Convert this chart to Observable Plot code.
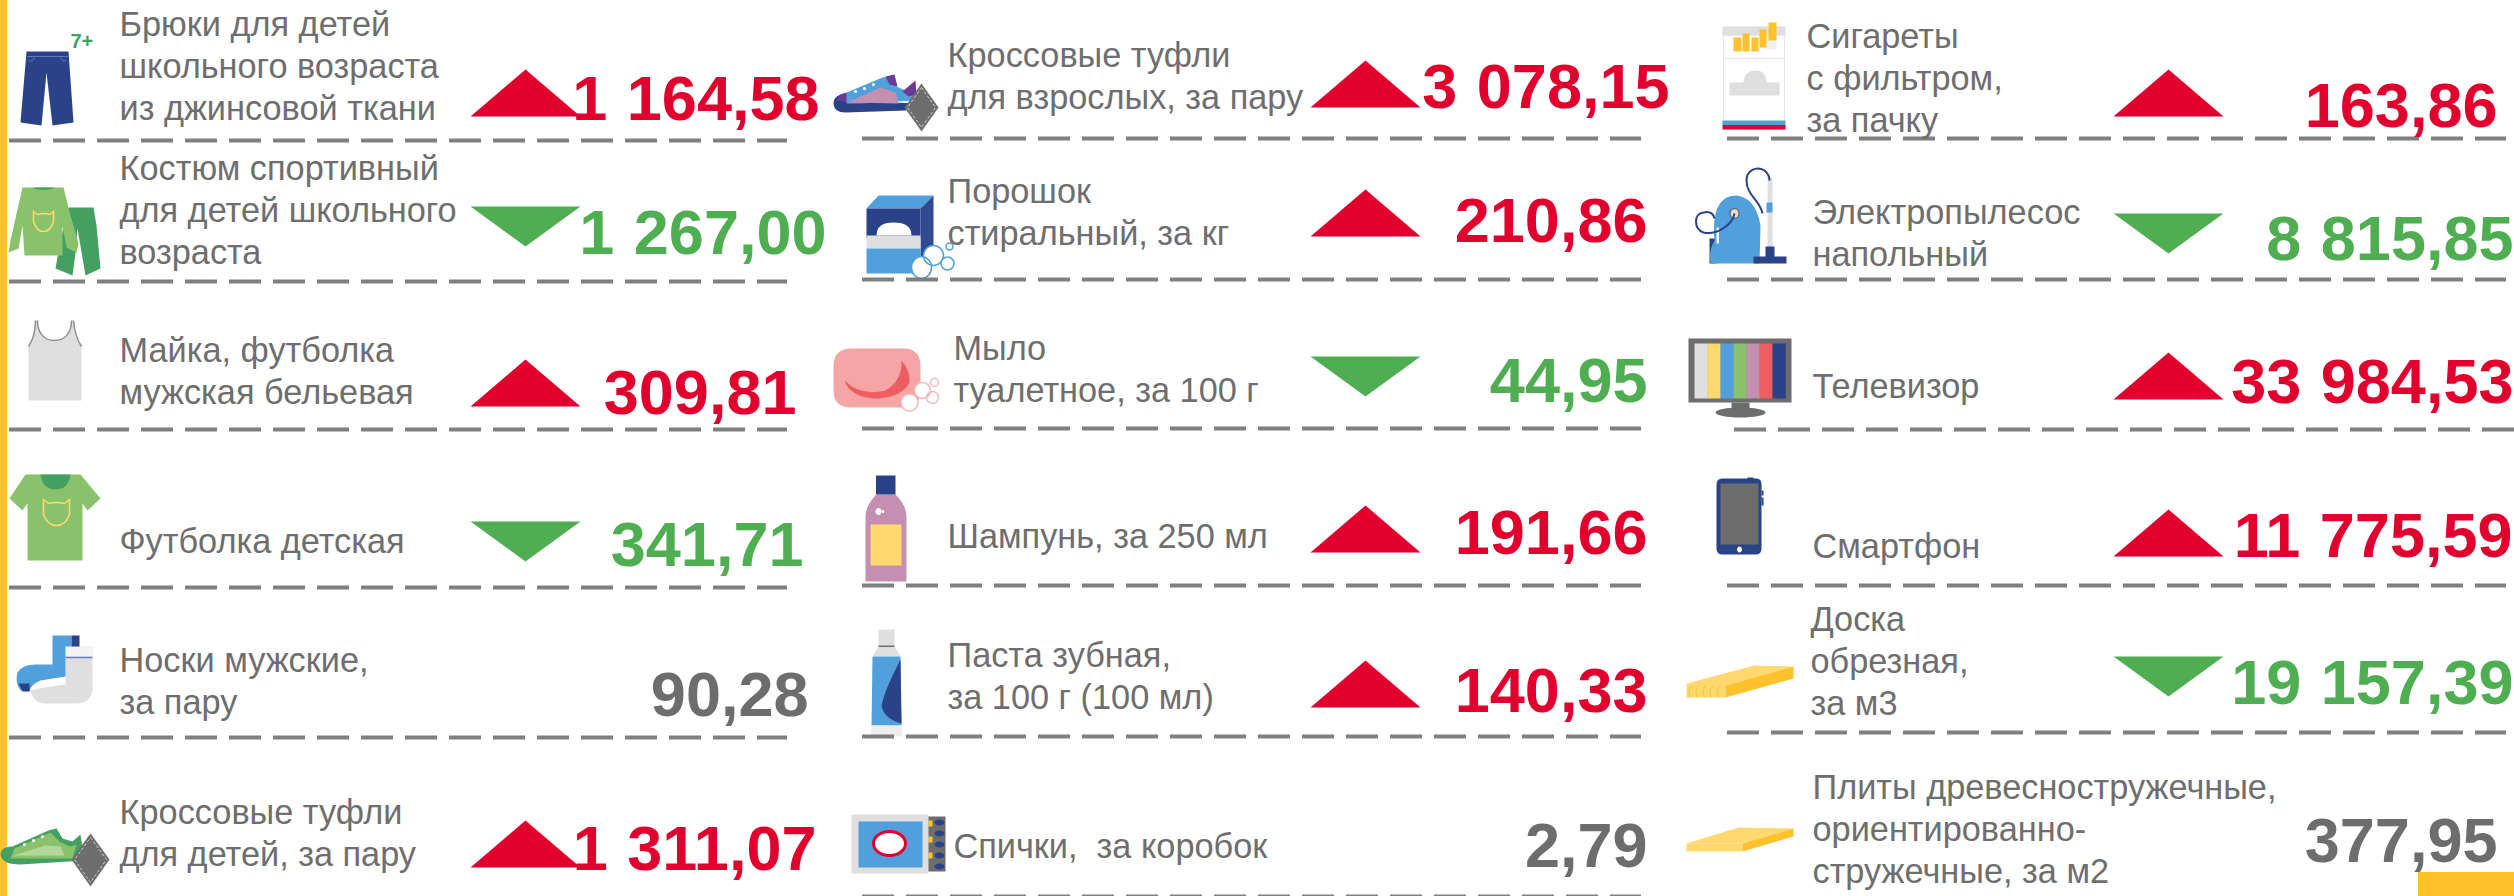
<!DOCTYPE html>
<html lang="ru">
<head>
<meta charset="utf-8">
<script src="https://cdn.jsdelivr.net/npm/d3@7"></script>
<script src="https://cdn.jsdelivr.net/npm/@observablehq/plot@0.6"></script>
<style>html,body{margin:0;padding:0;background:#fff;overflow:hidden}
svg text, svg tspan{font-family:"Liberation Sans",Arimo,Arial,sans-serif !important}
g[font-size="63"]{word-spacing:2px}</style>
</head>
<body>
<div id="chart"></div>
<script>
// ---------- data ----------
const products = [
  "Брюки для детей\nшкольного возраста\nиз джинсовой ткани",
  "Костюм спортивный\nдля детей школьного\nвозраста",
  "Майка, футболка\nмужская бельевая",
  "Футболка детская",
  "Носки мужские,\nза пару",
  "Кроссовые туфли\nдля детей, за пару",
  "Кроссовые туфли\nдля взрослых, за пару",
  "Порошок\nстиральный, за кг",
  "Мыло\nтуалетное, за 100 г",
  "Шампунь, за 250 мл",
  "Паста зубная,\nза 100 г (100 мл)",
  "Спички,  за коробок",
  "Сигареты\nс фильтром,\nза пачку",
  "Электропылесос\nнапольный",
  "Телевизор",
  "Смартфон",
  "Доска\nобрезная,\nза м3",
  "Плиты древесностружечные,\nориентированно-\nстружечные, за м2"
];
const prices = [1164.58, 1267.00, 309.81, 341.71, 90.28, 1311.07,
                3078.15, 210.86, 44.95, 191.66, 140.33, 2.79,
                163.86, 8815.85, 33984.53, 11775.59, 19157.39, 377.95];
const trends = ["up","down","up","down","flat","up",
                "up","up","down","up","up","flat",
                "up","down","up","up","down","flat"];

// ---------- layout ----------
const labelX   = [119,119,119,119,119,119, 947,947,953,947,947,953, 1806,1812,1812,1812,1810,1812];
const labelY   = [119,263,403,552,713,865, 108,244,401,547,708,857, 131,265,397,557,714,882];
const valueEnd = [819,826,796,803,808,816, 1669,1647,1647,1647,1647,1647, 2497,2513,2513,2512,2513,2497];
const valueY   = [119,253,413,565,715,869, 107,241,401,553,711,866, 126,259,402,556,703,861];
const markX    = [525,525,525,525,525,525, 1365,1365,1365,1365,1365,1365, 2168,2168,2168,2168,2168,2168];
const markY    = [116,206,406,521,0,867, 107,236,356,552,707,0, 116,213,399,556,656,0];
const ruleRows = [
  [9,787,140],[9,787,281],[9,787,429],[9,787,587],[9,787,737],
  [862,1641,138],[862,1641,279],[862,1641,428],[862,1641,585],[862,1641,736],[862,1641,896],
  [1727,2506,138],[1727,2506,279],[1734,2514,429],[1727,2506,585],[1727,2506,732]
];
const palette = {red:"#e1002d", green:"#50ae52", grey:"#6d6d6d", text:"#6e6e6e", rule:"#7f7f7f",
  navy:"#2a4287", blue:"#52a0db", lime:"#8ac26b", forest:"#44a062", pink:"#c48fb0", salmon:"#f5a5a5",
  coral:"#ec5e5f", sun:"#ffd970", amber:"#ffc22d", pale:"#dfdfdf", purple:"#6b3a96"};
const P = palette;

const ru = d3.formatLocale({decimal:",", thousands:" ", grouping:[3], currency:["",""]}).format(",.2f");
const rows = products.map((name,i)=>({name, price:ru(prices[i]), trend:trends[i],
  lx:labelX[i], ly:labelY[i], vx:valueEnd[i], vy:valueY[i], mx:markX[i], my:markY[i]}));

const trendColor = {up:P.red, down:P.green, flat:P.grey};

// ---------- symbols ----------
const upSymbol   = {draw(c){c.moveTo(0,-47);c.lineTo(55,0);c.lineTo(-55,0);c.closePath();}};
const downSymbol = {draw(c){c.moveTo(-55,0);c.lineTo(55,0);c.lineTo(0,40);c.closePath();}};

// Small pictogram path language: M L Q C Z, E cx cy rx ry (ellipse), R x y w h (rectangle)
function pictogram(d, ax, ay){
  const t = d.match(/[MLQCZER]|-?[\d.]+/g);
  return {draw(c){
    let i = 0; const n = () => +t[i++];
    const X = () => n()-ax, Y = () => n()-ay;
    while (i < t.length){
      const k = t[i++];
      if (k==="M"){const x=X(),y=Y();c.moveTo(x,y);}
      else if (k==="L"){const x=X(),y=Y();c.lineTo(x,y);}
      else if (k==="Q"){const a=X(),b=Y(),x=X(),y=Y();c.quadraticCurveTo(a,b,x,y);}
      else if (k==="C"){const a=X(),b=Y(),e=X(),f=Y(),x=X(),y=Y();c.bezierCurveTo(a,b,e,f,x,y);}
      else if (k==="Z"){c.closePath();}
      else if (k==="E"){const x=X(),y=Y(),rx=n(),ry=n(),q=0.5523;
        c.moveTo(x+rx,y);
        c.bezierCurveTo(x+rx,y+q*ry,x+q*rx,y+ry,x,y+ry);
        c.bezierCurveTo(x-q*rx,y+ry,x-rx,y+q*ry,x-rx,y);
        c.bezierCurveTo(x-rx,y-q*ry,x-q*rx,y-ry,x,y-ry);
        c.bezierCurveTo(x+q*rx,y-ry,x+rx,y-q*ry,x+rx,y);
        c.closePath();}
      else if (k==="R"){const x=X(),y=Y(),w=n(),h=n();
        c.moveTo(x,y);c.lineTo(x+w,y);c.lineTo(x+w,y+h);c.lineTo(x,y+h);c.closePath();}
    }
  }};
}

const W = "#ffffff";
const pictograms = [
  {at:[46,88], parts:[ // jeans
    [P.navy,null,"M26 51 L68 51 L73 122 L52 125 L46 72 L41 125 L20 122 Z"],
    [null,"#5f78b8","M26 56 L68 56",1],[null,"#5f78b8","M28 60 Q32 62 34 57 M66 60 Q62 62 60 57",1]]},
  {at:[54,230], parts:[ // tracksuit
    [P.forest,null,"M68 207 L93 207 L96 225 L100 268 L85 275 L77 228 L75 253 L72 275 L55 268 L60 240 Z"],
    [P.lime,null,"M22 187 L63 187 L70 215 L78 243 L76 252 L66 247 L62 225 L62 255 L24 255 L22 225 L18 248 L8 252 L10 240 Z"],
    [P.forest,null,"M32 187 Q43 192 55 187 Z"],
    ["none",P.sun,"M33 211 L37 214 Q43 212 49 214 L53 211 L53 221 Q50 231 43 231 Q36 231 33 221 Z",1.5]]},
  {at:[54,360], parts:[ // tank top
    [P.pale,null,"M35 320 C35 332 32 340 28 346 L28 400 L81 400 L81 346 C77 340 74 332 73 320 L71 320 C71 333 64 340 54 340 C44 340 37 333 37 320 Z"],
    ["none","#8f8f8f","M28 346 C32 340 35 332 35 320 M81 346 C77 340 74 332 73 320 M71 320 C71 333 64 340 54 340 C44 340 37 333 37 320",1.5]]},
  {at:[54,516], parts:[ // t-shirt
    [P.lime,null,"M25 474 L80 474 L100 498 L87 510 L82 503 L82 560 L27 560 L27 503 L22 510 L9 498 Z"],
    [P.forest,null,"M40 474 L70 474 Q68 489 55 489 Q42 489 40 474 Z"],
    ["none",P.sun,"M43 499 L48 503 Q56 501 64 503 L69 499 L69 514 Q65 525 56 525 Q47 525 43 514 Z",1.5]]},
  {at:[54,670], parts:[ // sock
    [P.pale,null,"M65 646 L92 646 L92 690 Q90 703 75 703 L45 703 Q33 703 30 690 Q45 686 65 684 Z"],
    ["#f4f4f4",null,"R65 646 27 10"],
    ["none","#6a7fc0","M65 657 L92 657",1.5],
    [P.blue,null,"M52 635 L71 635 L71 646 L65 646 L65 676 L40 680 Q30 684 29 691 L20 690 Q14 682 17 672 Q22 664 35 664 L52 664 Z"],
    [P.navy,null,"R71 635 8 11"],
    [P.navy,null,"M18 683 L29 683 L29 691 L22 691 Z"]]},
  {at:[44,850], parts:[ // child trainers
    [P.forest,null,"M0 853 Q1 846 12 846 L48 830 L56 828 L62 838 L72 841 L80 834 L84 860 L20 864 Q0 864 0 853 Z"],
    [P.lime,null,"M14 848 L50 832 L60 842 L70 846 L76 844 L72 858 L10 858 Z"],
    ["#b3d79d",null,"M13 855 L45 845 L60 846 L64 855 Z"],
    [W,null,"E24 844 1.6 1.6 E33 840 1.6 1.6 E42 836 1.6 1.6"],
    [P.grey,null,"M90 833 L109 859 L90 886 L71 859 Z"],
    ["none","#cfcfcf","M90 837 L106 859 L90 882 L74 859 Z",1,"3 2"]]},
  {at:[876,95], parts:[ // adult trainers
    [P.navy,null,"M833 102 Q834 94 845 93 L850 100 L916 103 L905 110 L845 112 Q833 112 833 102 Z"],
    [P.purple,null,"M836 100 Q837 93 847 92 L848 102 Z"],
    [P.blue,null,"M846 92 L882 77 L890 76 L896 86 L905 90 L912 85 L914 100 L860 103 L846 103 Z"],
    [P.pink,null,"M847 102 L880 87 L895 92 L898 103 Z"],
    [P.purple,null,"M885 76 L894 74 L897 86 L889 84 Z M902 91 L915 80 L916 94 L908 96 Z"],
    [W,null,"E855 91 1.6 1.6 E864 88 1.6 1.6 E873 84 1.6 1.6"],
    [P.grey,null,"M921 83 L938 107 L921 131 L904 107 Z"],
    ["none","#cfcfcf","M921 87 L935 107 L921 127 L907 107 Z",1,"3 2"]]},
  {at:[900,235], parts:[ // washing powder
    [P.blue,null,"M866 208 L878 195 L933 195 L920 208 Z"],
    ["#31498f",null,"M920 208 L933 195 L933 255 L920 268 Z"],
    [P.navy,null,"R866 208 54 30"],
    [W,null,"M876 235 Q876 222 893 222 Q911 222 911 235 Z"],
    [P.pale,null,"R866 235 54 13"],
    [P.blue,null,"R866 248 54 25"],
    [W,P.blue,"E921 267 10 11 E933 255 10 10",1.5],
    [W,P.blue,"E947 263 6.5 6.5 E949 246 3.5 3.5",1.5]]},
  {at:[876,378], parts:[ // soap
    [P.salmon,null,"M851 348 L903 348 Q920 348 920 366 L920 390 Q920 407 903 407 L851 407 Q833 407 833 390 L833 366 Q833 348 851 348 Z"],
    [P.coral,null,"M844 380 Q850 398 878 398 Q902 396 909 382 Q910 370 901 360 Q902 380 885 390 Q860 396 844 380 Z"],
    [W,"#f5b7b7","E909 402 8.5 8.5 E922 390 8 8 E932 397 6 6 E934 382 4 4",1.5]]},
  {at:[885,528], parts:[ // shampoo
    [P.pink,null,"M876 494 L895 494 Q906 505 906 516 L906 581 L865 581 L865 516 Q865 505 876 494 Z"],
    [P.navy,null,"R875.5 475 19.5 19"],
    [P.sun,null,"R870 524 31 41"],
    [W,null,"E878 511 3 3.5 E882.5 511 1.5 1.5"]]},
  {at:[886,680], parts:[ // toothpaste
    [P.pale,null,"R878 629 16 17"],
    [P.pale,null,"M878 646 L894 646 L900 656 L872 656 Z"],
    [P.grey,null,"R878 645 16 1.5"],
    [P.blue,null,"M872 656 L900 656 L901 725 L871 725 Z"],
    [P.navy,null,"M900 659 Q884 690 881 705 Q883 718 901 723 Z"],
    ["#eeeeee",null,"M871 725 L901 725 L902 736 L870 736 Z"]]},
  {at:[895,843], parts:[ // matches
    [P.grey,null,"R927 816 18 55"],
    [P.amber,null,"R928 820 4 6 R928 836 4 6 R928 852 4 6"],
    [P.navy,null,"E939 822 5 3 E939 833 5 3 E939 844 5 3 E939 855 5 3 E939 866 5 3"],
    [P.pale,null,"R851 814 77 59"],
    [P.blue,null,"R858 821 64 46"],
    [W,P.red,"E889 843 16 12",3]]},
  {at:[1753,77], parts:[ // cigarettes
    [P.pale,null,"R1722 26 63 9"],
    [W,"#e8e8e8","R1723 35 61 23",1],
    ["#f0f0f0",null,"R1764 35 12 14"],
    [P.amber,null,"R1733 37 8 14 R1742 33 7 18 R1751 37 7 14 R1759 29 7 18 R1768 22 8 18"],
    [W,"#e8e8e8","R1723 58 61 71",1],
    [P.pale,null,"M1729 95 L1729 82 L1743 82 Q1744 70 1755 70 Q1766 70 1766 82 L1779 82 L1779 95 Z"],
    [P.blue,null,"R1722 120 63 4.5"],
    [P.red,null,"R1722 124.5 63 4.5"]]},
  {at:[1740,220], parts:[ // vacuum cleaner
    [P.pale,null,"R1767 177 5 70"],
    [P.blue,null,"R1766 202 6 10"],
    [P.navy,null,"M1709 263 L1709 238 L1716 238 L1716 263 Z"],
    [P.blue,null,"M1710 263 Q1708 250 1714 240 Q1710 195 1736 195 Q1755 197 1760 225 L1759 263 Z"],
    [P.navy,null,"R1765 246 9 14"],
    [P.navy,null,"R1753 256 33 7"],
    [W,null,"R1716 227 2.5 16"],
    [P.pale,P.grey,"E1734 213 4.5 5",1.5],
    ["none",P.navy,"M1762 213 C1760 200 1746 195 1746 180 C1746 170 1756 165 1764 170 Q1769 174 1769 180",2],
    ["none",P.navy,"M1734 213 C1732 225 1715 235 1703 232 C1693 228 1693 213 1703 212 Q1712 210 1714 218",2]]},
  {at:[1740,370], parts:[ // television
    [P.grey,null,"R1688 338 103 64"],
    [P.grey,null,"R1731 402 18 10"],
    [P.grey,null,"E1740 412 25 5"],
    [P.pale,null,"R1694 343 13.3 55"],
    [P.sun,null,"R1707 343 13.3 55"],
    [P.blue,null,"R1720 343 13.3 55"],
    [P.lime,null,"R1733 343 13.3 55"],
    [P.pink,null,"R1746 343 13.3 55"],
    [P.coral,null,"R1759 343 13.3 55"],
    [P.navy,null,"R1772 343 13.3 55"]]},
  {at:[1739,515], parts:[ // smartphone
    [P.navy,null,"M1722 478 L1756 478 Q1761 478 1761 484 L1761 548 Q1761 554 1755 554 L1722 554 Q1716 554 1716 548 L1716 484 Q1716 478 1722 478 Z"],
    [P.navy,null,"R1747 477 6 2 R1761 490 2 5 R1761 497 2 8"],
    [P.grey,null,"R1720 483 38 61"],
    [W,null,"E1739 549 2.5 3"]]},
  {at:[1740,680], parts:[ // edged board
    [P.sun,null,"M1686 683 L1754 665 L1793 666 L1725 685 Z"],
    [P.sun,null,"R1686 683 39 14"],
    ["none",P.amber,"M1690 697 Q1686 690 1692 685 M1697 697 Q1693 690 1699 685 M1704 697 Q1700 690 1706 685 M1711 697 Q1707 690 1713 685 M1718 697 Q1714 690 1720 685",1],
    [P.amber,null,"M1725 685 L1793 666 L1793 678 L1725 697 Z"]]},
  {at:[1740,840], parts:[ // chipboard
    [P.sun,null,"M1686 843 L1738 827 L1793 828 L1742 843 Z"],
    [P.sun,null,"R1686 843 56 8"],
    [P.amber,null,"M1742 843 L1793 828 L1793 836 L1742 851 Z"]]}
];

const pictogramMarks = pictograms.flatMap(({at:[ax,ay],parts}) => parts.map(([fill,stroke,d,sw,dash]) =>
  Plot.dot([{x:ax,y:ay}], {x:"x", y:"y", r:1, symbol:pictogram(d,ax,ay),
    fill: fill ?? "none", stroke: stroke ?? "none", strokeWidth: sw ?? 0, strokeDasharray: dash})
));

const chart = Plot.plot({
  width:2514, height:896, margin:0,
  style:{background:"#fff"},
  x:{domain:[0,2514], range:[0,2514], axis:null},
  y:{domain:[0,896], range:[0,896], axis:null},
  marks:[
    Plot.rect([{x1:0,x2:7,y1:0,y2:896},{x1:2418,x2:2514,y1:872,y2:896}],
      {x1:"x1",x2:"x2",y1:"y1",y2:"y2",fill:P.amber}),
    ...pictogramMarks,
    Plot.ruleY(ruleRows, {y:d=>d[2], x1:d=>d[0], x2:d=>d[1], stroke:P.rule, strokeWidth:4, strokeDasharray:"32 12"}),
    Plot.text(["7+"], {x:70, y:47, text:d=>d, textAnchor:"start", lineAnchor:"bottom", fontSize:20, fontWeight:"bold", fill:P.forest}),
    Plot.text(rows, {x:"lx", y:"ly", text:"name", textAnchor:"start", lineAnchor:"bottom", fontSize:34.3, lineHeight:1.22, fill:P.text}),
    Plot.dot(rows.filter(d=>d.trend==="up"), {x:"mx", y:"my", r:1, symbol:upSymbol, fill:P.red}),
    Plot.dot(rows.filter(d=>d.trend==="down"), {x:"mx", y:"my", r:1, symbol:downSymbol, fill:P.green}),
    Plot.text(rows, {x:"vx", y:"vy", text:"price", textAnchor:"end", lineAnchor:"bottom", fontSize:63, fontWeight:"bold", fill:d=>trendColor[d.trend]})
  ]
});
document.getElementById("chart").appendChild(chart);
</script>
</body>
</html>
